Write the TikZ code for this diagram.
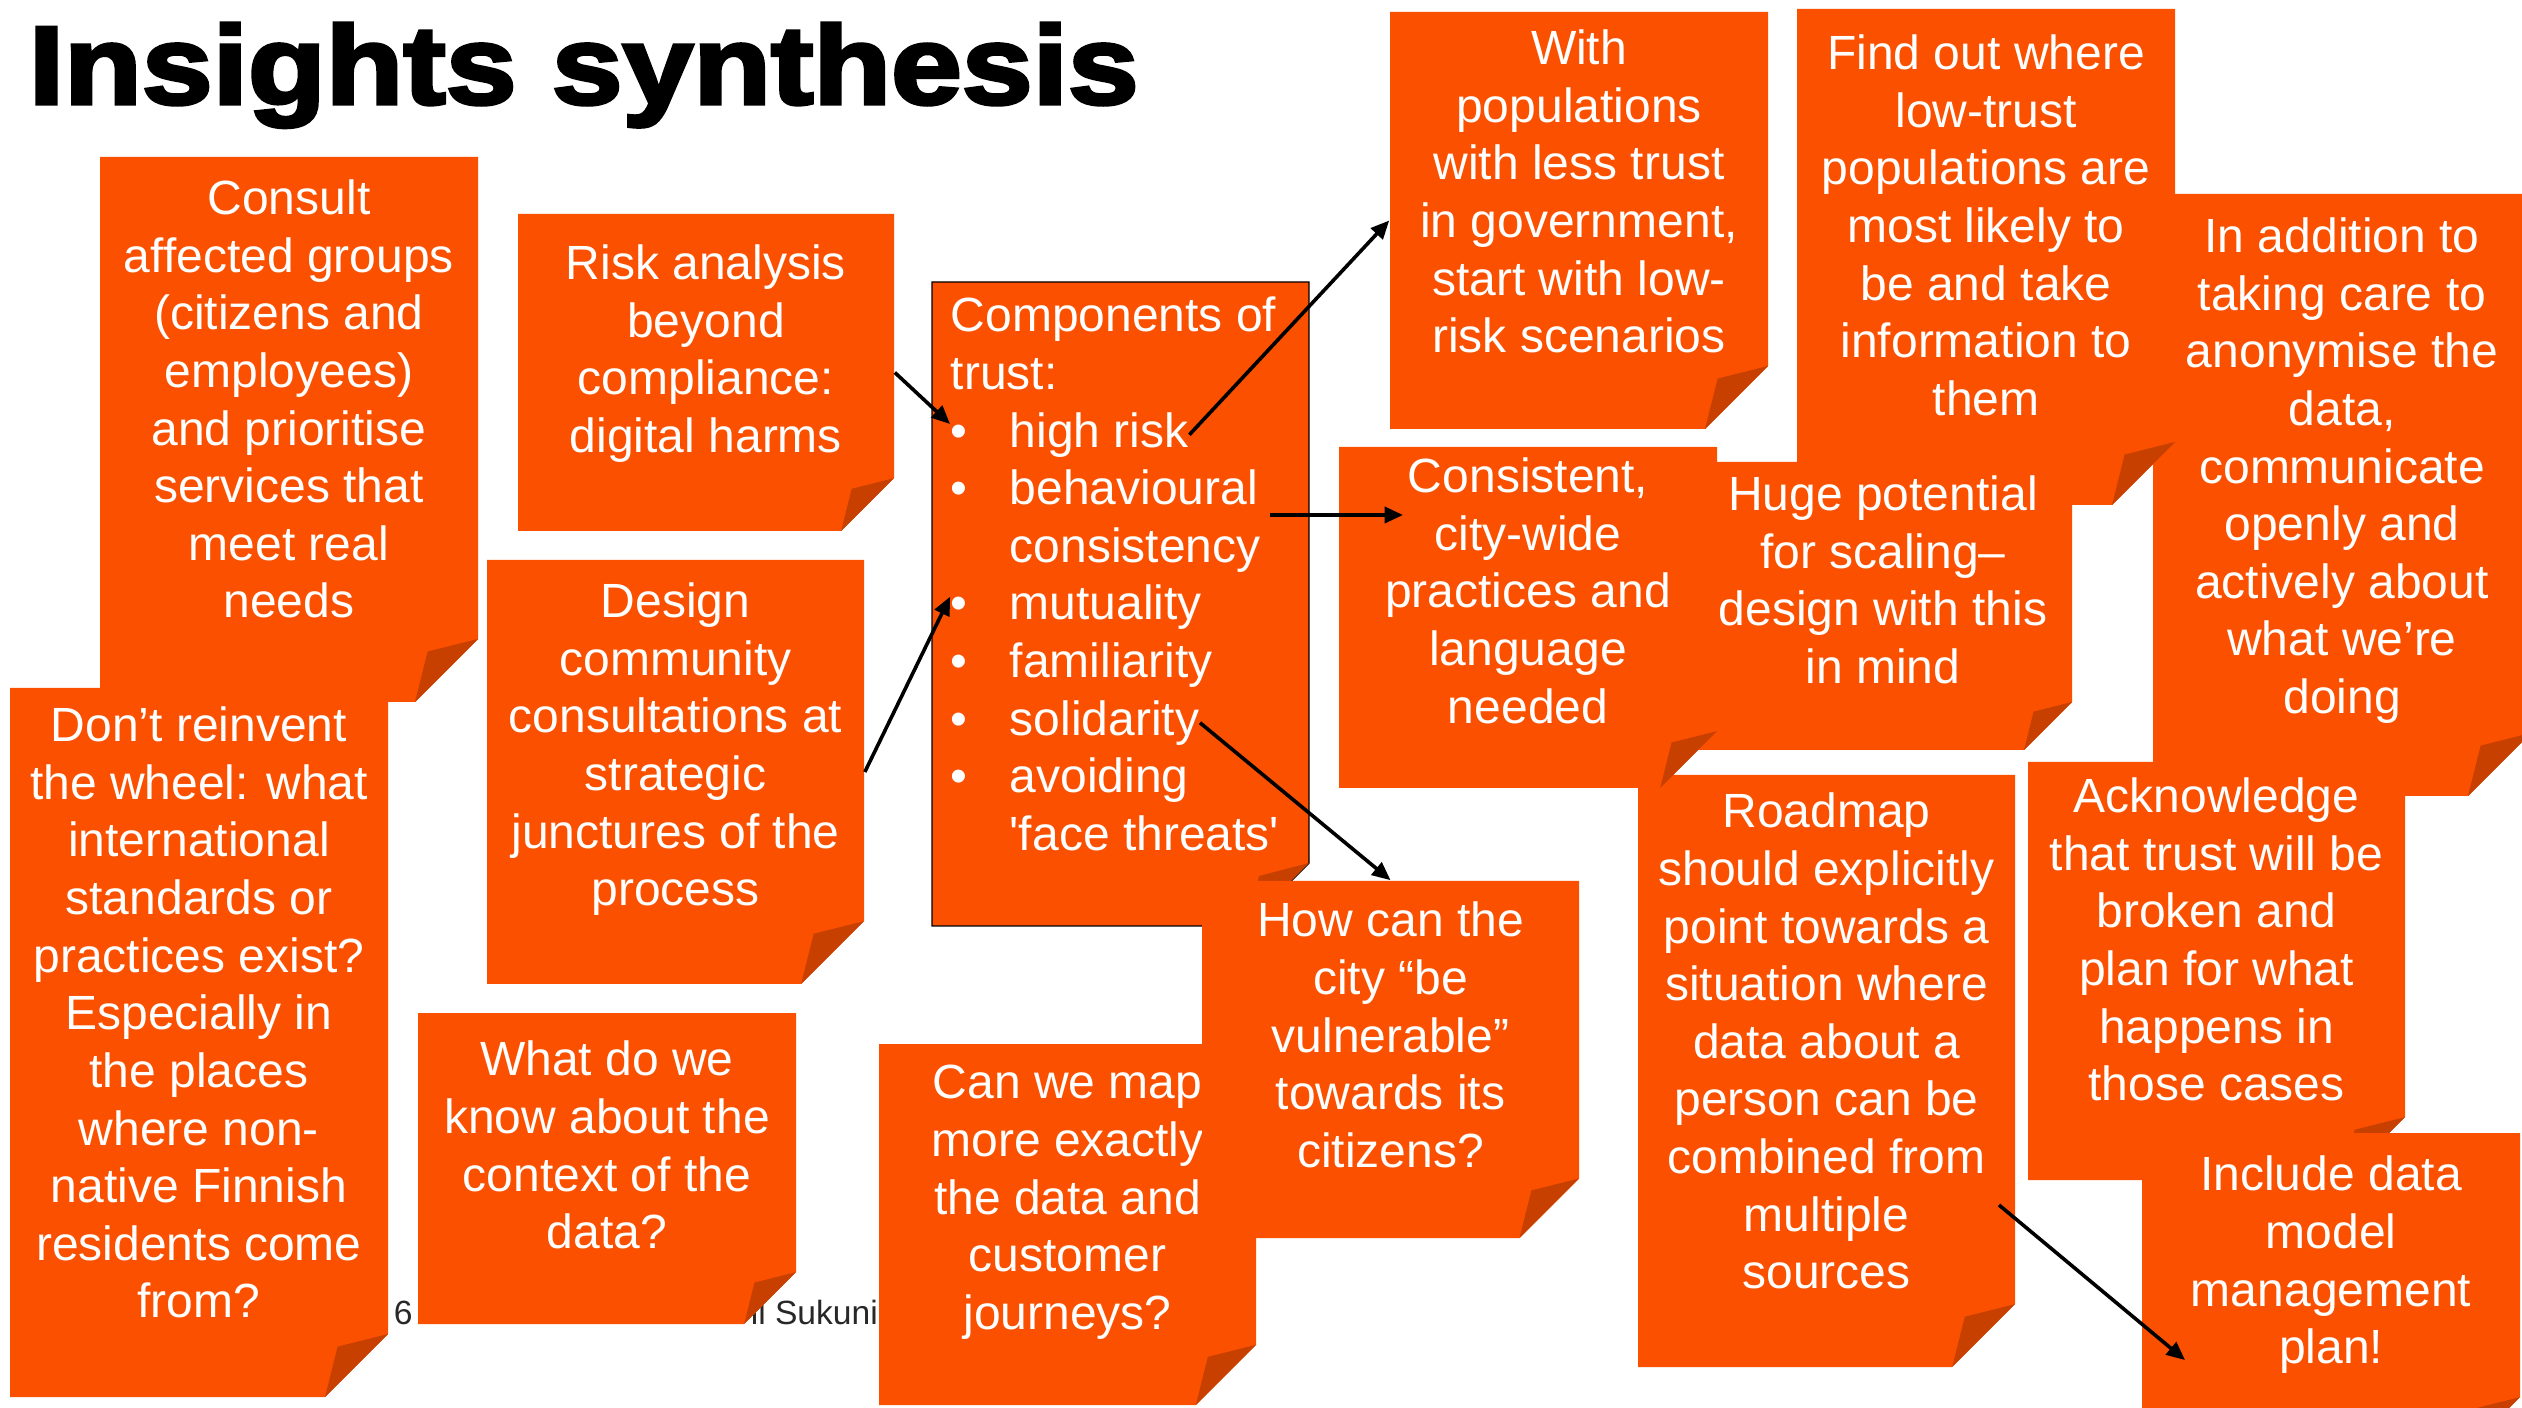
\documentclass[tikz,border=0pt]{standalone}
\usepackage{fontspec}
\usepackage{graphicx}
\setmainfont{Liberation Sans}
\newfontfamily\titlefont[FakeBold=3]{Liberation Sans Bold}
\usetikzlibrary{calc,fit,arrows.meta}
\definecolor{noteorange}{RGB}{250,80,0}
\definecolor{folddark}{RGB}{200,64,0}
\definecolor{footgray}{RGB}{40,40,40}
\tikzset{
  notetext/.style={text=white, align=center, inner sep=0pt, anchor=north, font=\fontsize{12pt}{14.4pt}\selectfont},
  boxline/.style={text=white, inner sep=0pt, anchor=base west, font=\fontsize{12pt}{14.4pt}\selectfont},
  arr/.style={draw=black, line width=0.9pt, -{Triangle[length=4.6pt,width=4pt]}},
  foot/.style={text=footgray, inner sep=0pt, anchor=base west, font=\fontsize{8.4pt}{10pt}\selectfont},
}
\newcommand{\fl}{\rule{0pt}{9pt}}
% name, x1, y1, x2, y2, first-baseline offset, text
\newcommand{\snote}[7]{%
  \pgfmathsetmacro{\fd}{min(#4-#2,#5-#3)/6}
  \fill[noteorange] (#2,#3) -- (#4,#3) -- (#4,#5-\fd) -- (#4-\fd,#5) -- (#2,#5) -- cycle;
  \fill[folddark] (#4,#5-\fd) -- (#4-0.8*\fd,#5-0.8*\fd) -- (#4-\fd,#5) -- cycle;
  \node[fit={(#2,#3) (#4,#5)}, inner sep=0pt] (#1) {};
  \node[notetext] (#1-text) at ({(#2+#4)/2},{#3+#6-36}) {\fl #7};
}
\begin{document}
\begin{tikzpicture}[x=0.25pt,y=-0.25pt]
\useasboundingbox (0,0) rectangle (2522,1408);
\clip (0,0) rectangle (2522,1408);
\fill[white] (0,0) rectangle (2522,1408);

% title
\node[anchor=base west, inner sep=0pt] (title) at (28,104)
  {\titlefont\fontsize{27.9pt}{30pt}\selectfont\scalebox{1.14}[1]{Insights synthesis}};

% footer (partly hidden)
\node[foot] (pagenum) at (393,1324) {6};
\node[foot] (author) at (750,1324) {il Sukuni};

\snote{A}{100}{157}{478}{702}{57}{Consult\\affected groups\\(citizens and\\employees)\\and prioritise\\services that\\meet real\\needs}
\snote{B}{10}{688}{388}{1397}{53}{Don’t reinvent\\the wheel: what\\international\\standards or\\practices exist?\\Especially in\\the places\\where non-\\native Finnish\\residents come\\from?}
\snote{C}{518}{214}{894}{531}{65}{Risk analysis\\beyond\\compliance:\\digital harms}
\snote{D}{487}{560}{864}{984}{57}{Design\\community\\consultations at\\strategic\\junctures of the\\process}
\snote{E}{418}{1013}{796}{1324}{62}{What do we\\know about the\\context of the\\data?}

% components of trust box
\fill[noteorange, draw=black, line width=0.35pt] (932,282) -- (1309,282) -- (1309,863) -- (1246,926) -- (932,926) -- cycle;
\fill[folddark] (1309,863) -- (1259,876) -- (1246,926) -- cycle;
\node[fit={(932,282) (1309,926)}, inner sep=0pt] (box) {};
\node[boxline] (bx0) at (950,332) {Components of};
\node[boxline] (bx1) at (950,389.6) {trust:};
\node[boxline] (bu2) at (950,447.2) {•};
\node[boxline] (bx2) at (1009,447.2) {high risk};
\node[boxline] (bu3) at (950,504.8) {•};
\node[boxline] (bx3) at (1009,504.8) {behavioural};
\node[boxline] (bx4) at (1009,562.4) {consistency};
\node[boxline] (bu5) at (950,620) {•};
\node[boxline] (bx5) at (1009,620) {mutuality};
\node[boxline] (bu6) at (950,677.6) {•};
\node[boxline] (bx6) at (1009,677.6) {familiarity};
\node[boxline] (bu7) at (950,735.2) {•};
\node[boxline] (bx7) at (1009,735.2) {solidarity};
\node[boxline] (bu8) at (950,792.8) {•};
\node[boxline] (bx8) at (1009,792.8) {avoiding};
\node[boxline] (bx9) at (1009,850.4) {\textquotesingle face threats\textquotesingle};

\snote{F}{879}{1044}{1256}{1405}{54}{Can we map\\more exactly\\the data and\\customer\\journeys?}
\snote{G}{1202}{881}{1579}{1238}{55}{How can the\\city “be\\vulnerable”\\towards its\\citizens?}
\snote{H}{1390}{12}{1768}{429}{52}{With\\populations\\with less trust\\in government,\\start with low-\\risk scenarios}
\snote{L}{2153}{194}{2531}{796}{58}{In addition to\\taking care to\\anonymise the\\data,\\communicate\\openly and\\actively about\\what we’re\\doing}
\snote{I}{1797}{9}{2175}{505}{60}{Find out where\\low-trust\\populations are\\most likely to\\be and take\\information to\\them}
\snote{K}{1694}{462}{2072}{750}{48}{Huge potential\\for scaling–\\design with this\\in mind}
\snote{M}{1638}{775}{2015}{1367}{52}{Roadmap\\should explicitly\\point towards a\\situation where\\data about a\\person can be\\combined from\\multiple\\sources}
\snote{J}{1339}{447}{1717}{788}{45}{Consistent,\\city-wide\\practices and\\language\\needed}
\snote{N}{2028}{762}{2405}{1180}{50}{Acknowledge\\that trust will be\\broken and\\plan for what\\happens in\\those cases}
\snote{O}{2142}{1133}{2520}{1450}{57}{Include data\\model\\management\\plan!}

% connectors
\coordinate (behout) at (1270,515);
\coordinate (jin) at (1403,515);
\coordinate (mout) at (1999,1205);
\coordinate (oin) at (2185,1360);
\draw[arr] (C.east) -- (bu2.north west);
\draw[arr] (bx2.east) -- (H.west);
\draw[arr] (behout) -- (jin);
\draw[arr] (D.east) -- (bu5.north west);
\draw[arr] (bx7.east) -- (G.north);
\draw[arr] (mout) -- (oin);
\end{tikzpicture}
\end{document}
